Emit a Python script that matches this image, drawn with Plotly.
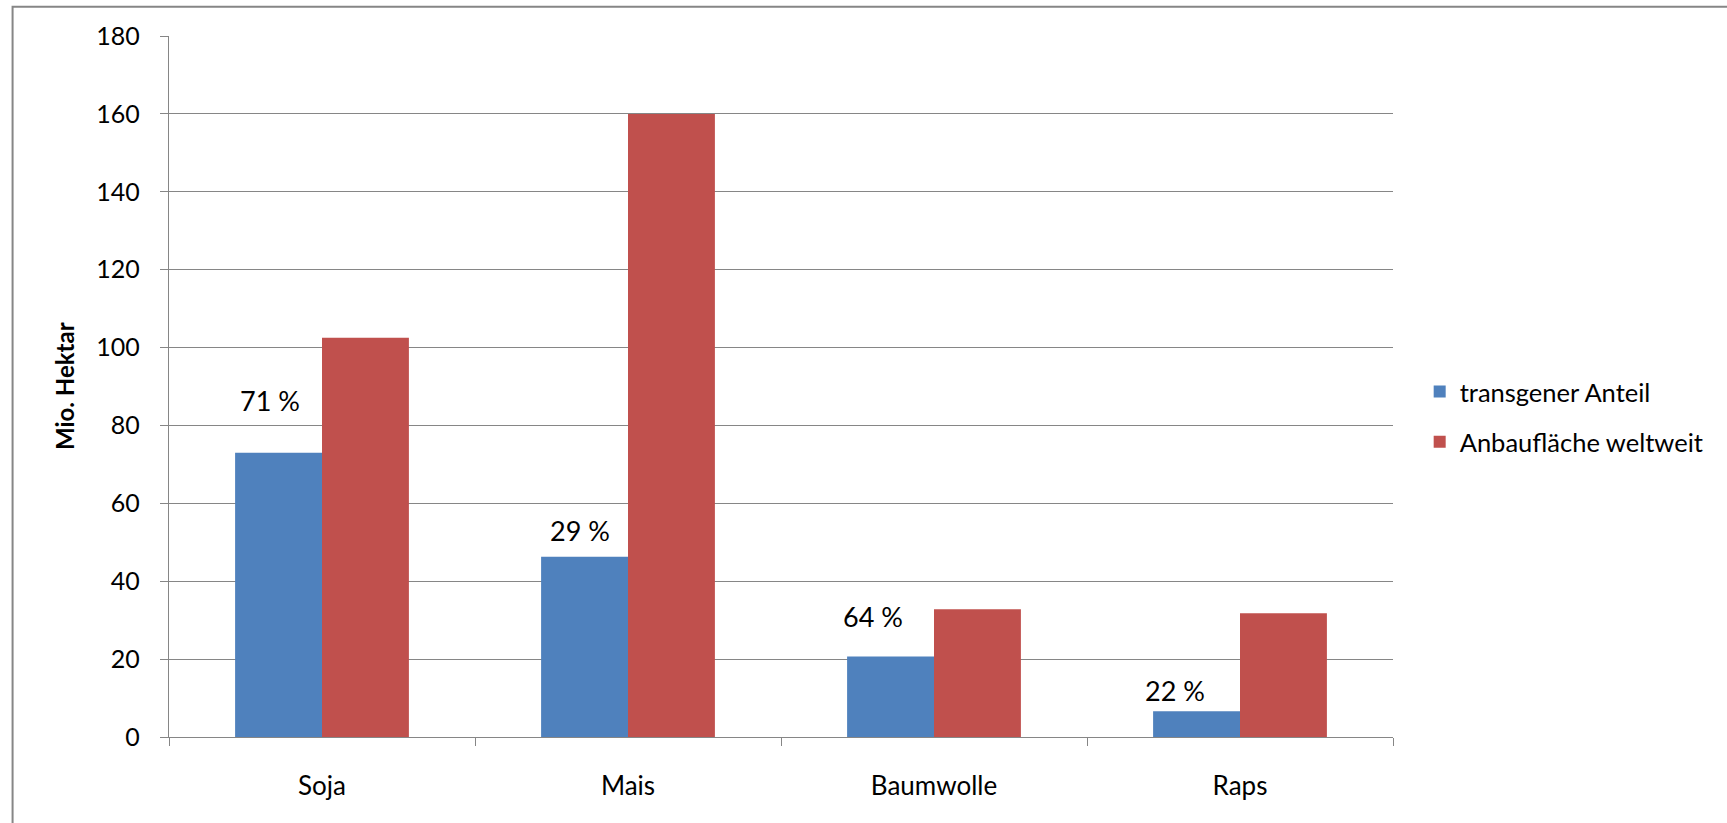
import plotly.graph_objects as go

# ---- data ----
categories = ["Soja", "Mais", "Baumwolle", "Raps"]
transgen = [73.0, 46.3, 20.7, 6.6]          # Mio. Hektar, transgener Anteil
anbau = [102.5, 160.0, 32.8, 31.8]          # Mio. Hektar, Anbaufläche weltweit
pct_labels = ["71 %", "29 %", "64 %", "22 %"]
series_names = ["transgener Anteil", "Anbaufläche weltweit"]
y_ticks = [0, 20, 40, 60, 80, 100, 120, 140, 160, 180]

BLUE = "#4F81BD"
RED = "#C0504D"
GRID = "#868686"
FONT = "Lato"

fig = go.Figure()
fig.add_trace(go.Bar(x=categories, y=transgen, name=series_names[0],
                     marker=dict(color=BLUE, line=dict(width=0)),
                     legendgroup="a"))
fig.add_trace(go.Bar(x=categories, y=anbau, name=series_names[1],
                     marker=dict(color=RED, line=dict(width=0)),
                     legendgroup="b"))

# percentage labels above the blue bars (pixel offsets from category centre / bar top)
label_shift = [(-52, 52), (-48, 26), (-61, 40), (-65, 21)]
for cat, val, txt, (dx, dy) in zip(categories, transgen, pct_labels, label_shift):
    fig.add_annotation(x=cat, y=val, text=txt, showarrow=False,
                       xanchor="center", yanchor="middle",
                       xshift=dx, yshift=dy,
                       font=dict(family=FONT, size=27, color="black"))

# y-axis title
fig.add_annotation(xref="paper", yref="paper", x=-0.0853, y=0.5,
                   xanchor="center", yanchor="middle",
                   text="<b>Mio. Hektar</b>", textangle=-90, showarrow=False,
                   font=dict(family=FONT, size=24, color="black"))

# outer chart border
fig.add_shape(type="rect", xref="paper", yref="paper",
              x0=-0.1278, x1=1.35, y0=1.0418, y1=-0.3,
              line=dict(color=GRID, width=2), fillcolor="rgba(0,0,0,0)")

fig.update_layout(
    width=1727, height=823,
    margin=dict(l=168.5, r=334, t=36.3, b=86.2),
    paper_bgcolor="white", plot_bgcolor="white",
    barmode="group", bargap=0.432, bargroupgap=0,
    font=dict(family=FONT, color="black"),
    showlegend=True,
    legend=dict(x=1.0218, xanchor="left", y=0.4565, yanchor="middle",
                font=dict(family=FONT, size=25.5, color="black"),
                bgcolor="rgba(0,0,0,0)", tracegroupgap=14,
                traceorder="grouped"),
    xaxis=dict(type="category", showgrid=False, showline=True,
               linecolor=GRID, linewidth=1.3,
               ticks="outside", tickson="boundaries", ticklen=8,
               tickcolor=GRID, tickwidth=1.3,
               tickfont=dict(family=FONT, size=26, color="black"),
               ticklabelstandoff=26),
    yaxis=dict(range=[0, 180], tickvals=y_ticks, showgrid=True,
               gridcolor=GRID, gridwidth=1.3, zeroline=False,
               showline=True, linecolor=GRID, linewidth=1.3,
               ticks="outside", ticklen=8, tickcolor=GRID, tickwidth=1.3,
               tickfont=dict(family=FONT, size=25, color="black"),
               ticklabelstandoff=15),
)

fig.write_html("out.html")
